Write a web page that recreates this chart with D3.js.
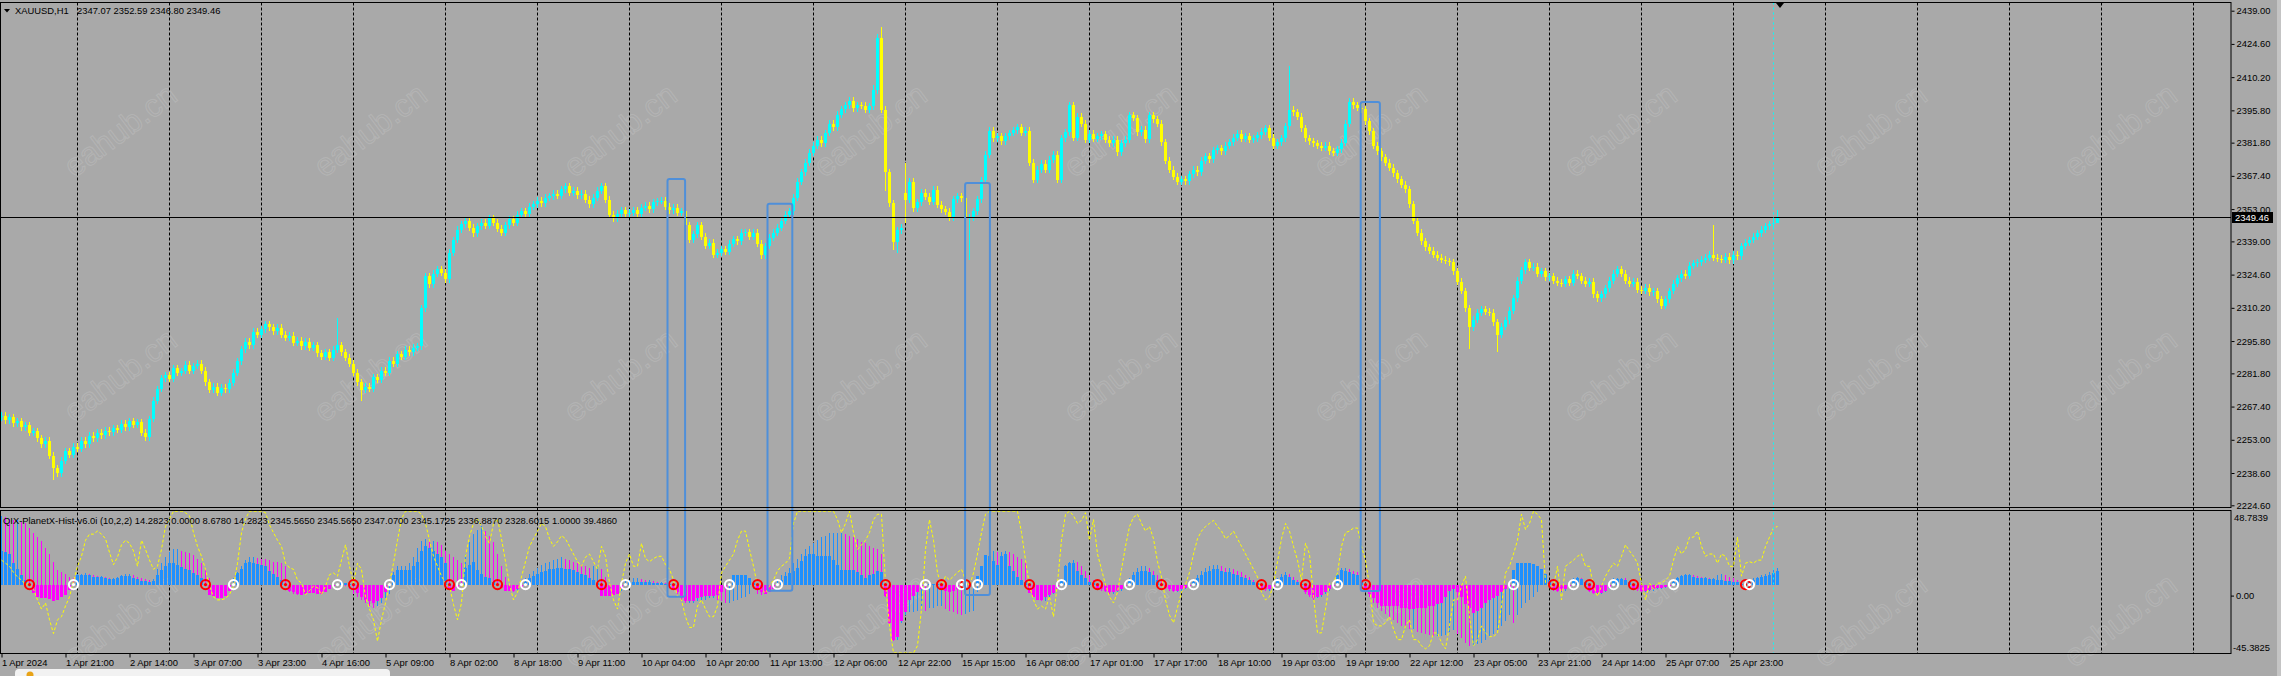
<!DOCTYPE html>
<html>
<head>
<meta charset="utf-8">
<title>XAUUSD,H1 - D3.js</title>
<script src="https://d3js.org/d3.v7.min.js"></script>
<style>
  body { margin: 0; background: #a9a9a9; overflow: hidden; }
  svg text { font-family: "Liberation Sans", Arial, sans-serif; font-size: 9.4px; fill: #000; }
  .axis path { display: none; }
  .axis line { stroke: #000; }
</style>
</head>
<body>
<div id="chart"></div>
<script>
// ---- price data (H1 bars, 1 Apr 2024 .. 26 Apr 2024) ----
const firstOpen = 2262.8;
const closes = [
  2263.5, 2261.5, 2262.8, 2260.2, 2261.0, 2258.5, 2259.4, 2256.0, 2256.8, 2253.6,
  2251.0, 2252.5, 2246.0, 2240.6, 2238.5, 2244.0, 2248.0, 2246.5, 2250.0, 2249.2,
  2252.5, 2251.0, 2254.8, 2253.6, 2256.0, 2255.0, 2257.0, 2256.2, 2258.0, 2257.4,
  2260.0, 2258.5, 2261.0, 2259.6, 2260.7, 2256.0, 2254.0, 2262.0, 2270.0, 2275.0,
  2279.6, 2281.0, 2279.5, 2284.0, 2282.0, 2282.8, 2285.5, 2283.0, 2285.0, 2286.0,
  2283.0, 2278.0, 2274.6, 2276.0, 2273.3, 2275.5, 2274.8, 2277.7, 2282.0, 2287.0,
  2292.3, 2295.5, 2294.0, 2299.8, 2298.5, 2301.0, 2303.0, 2301.7, 2300.0, 2301.5,
  2298.5, 2297.3, 2298.2, 2295.0, 2296.0, 2293.5, 2295.5, 2293.0, 2294.0, 2290.5,
  2289.0, 2291.0, 2288.5, 2292.0, 2294.0, 2291.0, 2288.5, 2286.0, 2282.0, 2278.0,
  2274.6, 2276.0, 2275.0, 2280.0, 2279.0, 2283.0, 2282.0, 2287.2, 2286.0, 2290.0,
  2289.0, 2292.0, 2291.0, 2293.0, 2293.5, 2310.0, 2323.8, 2320.5, 2325.0, 2327.0,
  2325.5, 2322.5, 2334.0, 2339.6, 2344.0, 2346.5, 2347.8, 2345.0, 2342.5, 2345.5,
  2347.0, 2345.8, 2349.0, 2347.0, 2344.5, 2342.7, 2346.0, 2348.5, 2347.0, 2350.5,
  2352.0, 2351.0, 2354.0, 2355.0, 2356.6, 2355.5, 2358.0, 2358.5, 2359.7, 2358.8,
  2361.5, 2362.9, 2360.0, 2361.0, 2359.0, 2359.7, 2357.0, 2355.0, 2358.0, 2361.0,
  2362.9, 2357.0, 2350.5, 2349.0, 2351.0, 2352.5, 2350.8, 2351.5, 2352.5, 2351.0,
  2353.5, 2354.5, 2353.0, 2356.0, 2356.5, 2356.6, 2354.0, 2352.5, 2353.5, 2351.5,
  2352.0, 2346.0, 2339.6, 2342.0, 2345.9, 2341.0, 2337.0, 2338.5, 2333.2, 2334.0,
  2335.5, 2334.6, 2338.0, 2340.0, 2339.0, 2342.7, 2343.0, 2341.0, 2342.7, 2338.0,
  2333.0, 2337.0, 2340.5, 2342.7, 2345.0, 2348.0, 2350.5, 2352.0, 2358.0, 2364.8,
  2369.0, 2373.0, 2377.4, 2380.5, 2383.0, 2381.5, 2386.0, 2390.0, 2388.5, 2394.0,
  2396.3, 2398.0, 2400.0, 2396.7, 2398.0, 2397.8, 2396.0, 2397.5, 2404.6, 2427.0,
  2396.0, 2369.0, 2355.6, 2338.7, 2343.8, 2345.0, 2357.0, 2364.8, 2353.4, 2356.0,
  2360.0, 2358.4, 2356.2, 2361.3, 2354.8, 2353.0, 2351.9, 2349.5, 2357.3, 2358.5,
  2357.7, 2349.0, 2349.5, 2352.0, 2357.3, 2365.6, 2376.5, 2387.0, 2383.8, 2384.7,
  2382.5, 2384.5, 2386.0, 2387.2, 2388.6, 2386.0, 2387.0, 2373.0, 2365.6, 2370.0,
  2372.6, 2370.0, 2374.3, 2376.5, 2365.6, 2383.8, 2386.4, 2398.0, 2384.0, 2393.1,
  2390.0, 2383.0, 2385.6, 2383.4, 2384.5, 2385.5, 2383.0, 2381.5, 2383.0, 2377.6,
  2381.5, 2383.0, 2393.8, 2392.5, 2386.4, 2387.5, 2383.3, 2393.8, 2391.9, 2390.0,
  2382.0, 2374.0, 2370.0, 2367.0, 2364.8, 2366.0, 2365.0, 2368.0, 2370.0, 2369.0,
  2374.0, 2376.0, 2374.5, 2378.5, 2379.5, 2378.0, 2380.5, 2382.0, 2384.0, 2385.6,
  2383.5, 2384.5, 2383.0, 2383.7, 2385.0, 2386.5, 2388.0, 2384.0, 2380.5, 2382.0,
  2383.7, 2389.0, 2396.0, 2395.0, 2393.0, 2388.0, 2383.7, 2382.5, 2381.5, 2380.5,
  2379.5, 2380.5, 2378.0, 2377.4, 2379.0, 2381.8, 2390.0, 2399.5, 2398.0, 2397.0,
  2396.3, 2391.0, 2386.8, 2380.5, 2378.0, 2375.5, 2373.0, 2371.0, 2368.5, 2366.0,
  2363.5, 2361.6, 2355.0, 2348.0, 2342.7, 2339.0, 2336.5, 2335.0, 2333.2, 2332.0,
  2331.0, 2330.5, 2330.0, 2326.0, 2321.5, 2317.5, 2310.0, 2301.7, 2305.0, 2308.0,
  2309.5, 2308.5, 2308.0, 2304.0, 2298.6, 2302.0, 2304.9, 2309.0, 2314.3, 2322.0,
  2326.5, 2330.0, 2327.5, 2328.0, 2325.0, 2326.0, 2323.5, 2323.8, 2322.0, 2321.0,
  2320.6, 2322.5, 2321.0, 2325.0, 2324.0, 2322.0, 2320.6, 2321.5, 2316.0, 2314.3,
  2316.0, 2318.7, 2322.0, 2325.0, 2327.0, 2325.0, 2322.0, 2320.6, 2321.5, 2318.0,
  2317.5, 2319.0, 2317.0, 2317.5, 2314.0, 2311.2, 2314.0, 2317.5, 2320.6, 2323.0,
  2325.0, 2324.0, 2328.5, 2329.5, 2330.0, 2331.0, 2332.0, 2333.2, 2332.0, 2331.4,
  2331.0, 2332.4, 2330.8, 2333.2, 2332.5, 2337.0, 2338.5, 2339.6, 2341.0, 2342.5,
  2344.0, 2345.5, 2346.5, 2347.07, 2349.46
];
// opens that differ from the previous close (weekend gaps)
const gapOpens = { 226: 2360.0 };
// wick extremes (other bars get a short wick)
const spikeHigh = { 84: 2306, 218: 2407, 219: 2429, 220: 2432, 226: 2373, 322: 2415, 428: 2346, 444: 2352.59 };
const spikeLow = { 13: 2235.5, 90: 2270, 221: 2361, 223: 2335.3, 224: 2334, 226: 2347, 242: 2331, 367: 2292.5, 374: 2291, 444: 2346.80 };

const priceTicks = [2439.00, 2424.60, 2410.20, 2395.80, 2381.80, 2367.40, 2353.00, 2339.00,
                    2324.60, 2310.20, 2295.80, 2281.80, 2267.40, 2253.00, 2238.60, 2224.60];
const lastPrice = 2349.46;
const titleText = "XAUUSD,H1";
const ohlcText = "2347.07 2352.59 2346.80 2349.46";

const timeLabels = ["1 Apr 2024", "1 Apr 21:00", "2 Apr 14:00", "3 Apr 07:00", "3 Apr 23:00", "4 Apr 16:00",
  "5 Apr 09:00", "8 Apr 02:00", "8 Apr 18:00", "9 Apr 11:00", "10 Apr 04:00", "10 Apr 20:00",
  "11 Apr 13:00", "12 Apr 06:00", "12 Apr 22:00", "15 Apr 15:00", "16 Apr 08:00", "17 Apr 01:00",
  "17 Apr 17:00", "18 Apr 10:00", "19 Apr 03:00", "19 Apr 19:00", "22 Apr 12:00", "23 Apr 05:00",
  "23 Apr 21:00", "24 Apr 14:00", "25 Apr 07:00", "25 Apr 23:00"];

// ---- indicator data ----
const indTitle = "QIX-PlanetX-Hist-v6.0i (10,2,2) 14.2823 0.0000 8.6780 14.2823 2345.5650 2345.5650 2347.0700 2345.1725 2336.8870 2328.6015 1.0000 39.4860";
const indRange = [-45.3825, 48.7839];
// thick histogram
const histFast = [
  22, 21, 20, 14, 10, 6.5, 3, -0.5, -5.5, -8,
  -8.5, -9, -9.7, -10.8, -10, -8, -6.5, -3.3, 0.5, 6.5,
  6.5, 6.5, 6.2, 5, 5, 4.8, 4.2, 3.7, 3.7, 4.5,
  5.8, 5.8, 5.5, 4.5, 3.5, 2.6, 2.3, 2, 2.2, 6,
  9.6, 12, 14, 14, 13, 11.8, 10.5, 9.6, 7.5, 6,
  4.3, -1, -6.5, -7.5, -8.7, -8.5, -7.5, -4, 0.5, 7.5,
  10, 14, 14.5, 14, 13.5, 12.5, 12, 9, 7, 5,
  3, -0.5, -4.4, -5, -6, -6.5, -6, -5.5, -5.5, -6,
  -6, -5, -3, -1, 0.5, 1.5, 1, 0.5, -1, -5.5,
  -8, -10, -11, -12, -11, -9, -5, 0.5, 6.5, 9.6,
  9.6, 9.6, 9.6, 12, 15, 21.8, 25.5, 24, 22, 20,
  18, 14, -2, -4, -2, 0.5, 11, 13, 15, 9.6,
  7, 5, 4, 1.5, -0.5, -2.5, -4, -4.5, -4, -3,
  -1.5, 2, 4, 5.5, 7, 8, 9, 10, 10.5, 11,
  11, 10.5, 10, 9.5, 8.5, 7, 6, 4.5, 3, 1,
  -7.6, -7.6, -7.6, -7, -6, -3, 0.5, 2, 2, 2,
  2, 1.8, 1.5, 1.2, 1, 0.8, 0.5, 0.2, -3, -5,
  -9, -11, -11, -10.5, -9, -8, -7.6, -7.6, -7.6, -7,
  -5, -2, 0.5, 6.5, 6.5, 6.5, 6, 4, 1, -3,
  -5, -6, -5, -3, 0.5, 3, 5.5, 7.5, 9, 10.9,
  15.3, 18.5, 20.3, 20, 18.5, 18.5, 18.5, 18.5, 16, 13,
  9.8, 9.8, 9.8, 9.8, 8, 6, 4.4, 6, 7, 9,
  8, -7.6, -25, -36, -34, -23.6, -18, -9.8, -7.6, -5,
  -3, 0.5, 0.5, 0.5, 0.3, -3, -4.5, -5, -4, -3,
  0.5, -1, -1, -0.5, 5.5, 12, 19.6, 18.5, 15.3, 13,
  18.5, 20.3, 12, 8.7, 5, 3, 2, -5.5, -8, -9.8,
  -9.8, -8, -7, -5.5, -3, 3, 12, 14, 14, 9,
  6, 4, 2, 1, -2, -3, -4, -5, -5, -4,
  -3, -1, 3, 6, 8, 9, 9, 8, 6, 3,
  -1, -2, -3, -4, -4, -3, -2, -1, 2, 4,
  6, 8, 9, 10, 10, 9, 8, 8, 7, 6,
  5, 4, 3, 2, 1, -2, -3, -3, -2, 3,
  5, 6, 5, 3, 1.5, 0.5, -5, -7, -8.7, -8,
  -7, -5, -3, -1, 6, 9.8, 9, 8, 7, 6,
  2, -3, -6, -9, -12, -13.7, -13.7, -13.7, -13.7, -14,
  -15, -15, -15.9, -15.9, -15.5, -15, -15, -14, -13.7, -13,
  -12, -8, -4, -3, -5, -8, -12.5, -15, -18.5, -17,
  -15, -12, -10, -8.7, -7.6, -5, -3, -1.5, 9.6, 14.4,
  14.4, 14.4, 14.4, 13.2, 12, 10, 7, 3, -3, -4,
  -4, -3, -1, 3.5, 4, 3.5, 2, -4, -5.5, -5.5,
  -5.5, -4, -2, 3, 3.5, 3.5, 3, 1.5, -2, -3,
  -4, -4, -3.5, -3, -2.5, -2, -1.5, -1, 2, 4,
  5.5, 6, 6, 5, 4.5, 4, 4, 3.5, 3.5, 3,
  3, 2.5, 2.5, 2, 1.5, 0.5, -0.5, 2, 3, 4,
  5, 5.5, 6.5, 7.5, 8.7
];
// thin histogram
const histSlow = [
  45, 44, 43, 42, 42, 41, 40, 37, 34, 31,
  28.6, 24, 20, 15, 9.4, 8, 7, 5, 4, 7,
  7, 7.5, 7, 6, 5.5, 5.5, 5, 4.5, 4.5, 5,
  6.5, 7, 7, 6, 5, 4, 3.5, 3, 3.5, 10,
  14, 18, 21, 23, 23.5, 22, 21, 20.5, 19.6, 17,
  14, 10, 4, -2, -4, -3, -2, 1, 4, 8,
  12, 16, 18, 18, 17.5, 17, 16.5, 16, 15, 14.5,
  14, 12, -5, -6, -7, -7, -6, -5, -5, -4,
  -3, -2, -1, 0, 1, 0.5, -1, -3, -6, -8,
  -10, -12, -14, -15, -14, -12, -9, -6, 8, 12,
  12, 12, 14, 18, 24, 28.6, 30, 28.6, 28.6, 28,
  26, 22, 20, 18, 16, 14, 20, 28, 33, 36,
  38, 35, 32, 28, 20, 12, 5, -3, -5, -4,
  -2, 4, 7, 9, 11, 13, 14, 15, 16, 17,
  18, 17, 16, 15, 14, 13, 12, 11, 12, 12,
  10, 5, -4, -7, -6, -4, 3, 3, 4, 4,
  3.5, 3, 3, 2.5, 2, 2, 1, 0, -2, -6,
  -10, -12, -12, -12, -11, -10, -10, -9, -9, -10,
  -11, -12, -12, -11, -10, -9, -8, -6, -3, -6,
  -7, -6, -4, -2, 3, 6, 8, 11, 14, 17,
  20, 23, 25, 27, 29, 31, 32, 33.8, 33.8, 33.8,
  33.8, 33, 32, 31, 30, 28, 27, 25, 24, 23,
  20, -8, -26, -37, -36, -25, -20, -18, -18, -17,
  -16, -17, -15, -15, -14, -14, -16, -17, -18, -19,
  -20, -19, -18, -17, -5, 10, 18, 22, 22, 21,
  21, 22, 21, 20, 18, 17, 15, -3, -7, -10,
  -11, -11, -9, -6, -3, 1, 13, 15, 16, 15,
  12, 9, 6, 3, -3, -4, -5, -6, -6, -5,
  -4, -2, 4, 8, 11, 12, 12, 11, 9, 6,
  3, -3, -4, -5, -5, -4, -3, -1, 3, 6,
  9, 11, 12, 13, 13, 12, 11, 11, 10, 9,
  8, 6, 5, 3, 2, -3, -4, -4, -3, 4,
  7, 8, 7, 5, 3, 1, -6, -8, -10, -9,
  -8, -6, -4, -2, 7, 11, 11, 10, 9, 8,
  3, -4, -8, -12, -15, -17, -19, -21, -23, -25,
  -27, -28, -29, -29, -31, -31.6, -32, -33, -33.8, -33.8,
  -33.8, -33, -31, -30, -32, -35, -38, -40, -40, -39,
  -38, -36, -34, -32, -30, -27, -24, -20, -25, -20,
  -15, -12, -10, -8, -5, 2, 5, 3, -4, -5,
  -5, -4, -2, 4, 5, 4, 2, -5, -6, -6,
  -6, -5, -3, 4, 4.5, 4.5, 4, 2, -3, -4,
  -5, -5, -4, -4, -3, -3, -2, -1, 3, 5,
  6.5, 7, 7, 6, 5.5, 5, 5, 4.5, 4.5, 6,
  7, 6, 5, 4, 3, 1, -1, 3, 4, 5,
  6, 7, 8, 9.5, 11
];
// yellow dashed line
const signalLine = [
  16, 14, 12, 8, 5, 3, 0, 1, -3, -10,
  -16, -12, -23, -32, -23, -21, -14, -8, 2, 12,
  18.5, 29, 33, 33, 35, 33, 30, 21, 13, 18,
  26, 29, 27, 22, 12, 29, 23, 16, 10, 12,
  23, 38, 43, 48, 48, 48, 47, 45, 34, 25,
  18.5, 10, -1, -8, -10, -10, -9, -6.5, -1, 14,
  34, 43, 48, 48, 48, 48, 47, 39, 34, 29,
  25, 14, 11, 10, 3, 1, -6.5, -4, -1, -2,
  -6.5, -1, 6.5, 7.6, 5.5, 16, 26, 12, 1, 14,
  10, -8, -16, -23, -37, -23, -12, 1, 14, 29,
  43, 48, 48, 48, 48, 46, 40, 29, 18.5, 12,
  5.5, 1, -1, -13, -23, -12, 18.5, 31.6, 40, 43,
  38, 31.6, 27, 40, 43, 30, 15, 0, -10, -5,
  5, 15, 25, 30, 35, 40, 38, 30, 25, 28,
  32, 30, 25, 20, 15, 12, 18, 20, 15, 10,
  25, 18.5, 1, -10, -16, 1, 14, 20, 12, 12,
  27, 17, 15, 17, 18.5, 18.5, 13, 10, 3, -7.6,
  -10, -21, -28, -28, -14, -10, -16, -21, -21, -14,
  7.6, 12, 16, 20, 29, 35, 35, 23, 12, -1,
  -3, -5.5, -1, 3, 9, 12, 14, 17, 40, 48,
  48, 48, 48, 48, 48, 48, 48, 48, 48, 42.5,
  34, 40, 48, 34, 23, 26, 29, 34, 42.5, 46,
  46, 1, -27, -44.7, -44.7, -44.7, -44.7, -44.7, -44.7, -40,
  -16, 23, 42.5, 29, 7.6, -1, 5.5, 3, 5.5, 8,
  10, 3, -1, 7.6, 20, 34, 46, 48, 48, 48,
  48, 48, 48, 48, 48, 34, 16, -1, -10, -16,
  -14, -16, -7.6, -21, 1, 29, 46, 48, 45, 40,
  42, 47, 29, 42.5, 20, 10, 0, -8, -12, -5,
  10, 25, 38, 44, 46, 40, 35, 38, 30, 15,
  5, -10, -20, -25, -15, -5, 0, 8, 20, 30,
  35, 38, 40, 42, 38, 35, 30, 32, 35, 30,
  25, 20, 15, 10, 5, -5, -10, -8, 0, 15,
  30, 40, 35, 25, 16, 3, 27, 20, -7.6, -31.6,
  -31.6, -16, 1, 1, 7.6, 25, 34, 35, 37, 37,
  25, 16, -1, -25, -27, -27, -25, -21, -29, -36,
  -36, -27, -23, -36, -36, -40, -42, -40, -31.6, -31.6,
  -38, -42, -27, -10, -10, -1, 5.5, -21, -40, -36,
  -27, -31.6, -34, -34, -31.6, -14, 7.6, 12, 20, 29,
  46, 36, 40, 48, 46, 42.5, 1, -1, -1, 12,
  -10, 12, 14, 16, 18.5, 20, 12, 12, -1, -7.6,
  -1, 5.5, 10, 14, 12, 18.5, 26, 22, 18.5, 14,
  1, -10, 1, -3, 1, 1, 3, 5.5, 16, 25,
  20, 23, 31, 31, 35, 25, 18.5, 20, 20, 14,
  20, 18.5, 12, 12, 31, 5.5, 14, 15, 14, 16,
  16, 25, 31, 37, 38
];
// signal circles on the zero line (bar numbers)
const sellMarks = [7, 51, 71, 88, 112, 124, 150, 168, 189, 221, 235, 241, 257, 274, 290, 315, 326, 341, 388, 397, 408, 436];
const buyMarks = [18, 58, 84, 97, 115, 131, 156, 182, 194, 231, 240, 244, 265, 282, 298, 319, 334, 378, 393, 403, 418, 437];

// highlight boxes drawn over both windows: bar span, top price, bottom indicator value
const boxFrom = [166.5, 191.5, 240.9, 339.8];
const boxTo = [170.9, 197.7, 247.1, 344.6];
const boxTopPrice = [2366.0, 2355.3, 2364.3, 2399.4];
const boxBottomValue = [-7.9, -4.0, -6.8, -4.2];

// ---- layout ----
const W = 2281, H = 676;
const plotRight = 2231;
const mainTop = 2.5, mainBottom = 507.5;
const subTop = 510.5, subBottom = 653.5;
const nBars = closes.length;

const svg = d3.select("#chart").append("svg")
  .attr("width", W).attr("height", H)
  .style("display", "block");

svg.append("rect").attr("width", W).attr("height", H).attr("fill", "#a9a9a9");
svg.append("rect").attr("x", W - 4).attr("width", 4).attr("height", H).attr("fill", "#c4c4c4");

const x = d3.scaleLinear().domain([0, nBars - 1]).range([1.5, 1.5 + 4 * (nBars - 1)]);
const y = d3.scaleLinear().domain([2224.6, 2439]).range([505.3, 10.7]);
const yi = d3.scaleLinear().domain(indRange).range([654, 510]);

const defs = svg.append("defs");
defs.append("clipPath").attr("id", "clipMain")
  .append("rect").attr("x", 1).attr("y", 3).attr("width", plotRight - 1).attr("height", mainBottom - 3);
defs.append("clipPath").attr("id", "clipSub")
  .append("rect").attr("x", 1).attr("y", subTop + 0.5).attr("width", plotRight - 1).attr("height", subBottom - subTop - 1);

// ---- watermark (faint, under the marks) ----
const wm = svg.append("g").attr("pointer-events", "none");
[130, 375, 620].forEach(wy => {
  d3.range(120, 2300, 250).forEach(wx => {
    wm.append("text").attr("transform", `translate(${wx},${wy}) rotate(-37)`)
      .attr("text-anchor", "middle").attr("dy", "0.35em")
      .style("font-size", "32px").style("fill", "none")
      .style("stroke", "#ffffff").style("stroke-opacity", 0.13).style("stroke-width", 1.2)
      .text("eahub.cn");
  });
});

// day separators
const dayBars = d3.range(19, 600, 23).filter(b => x(b) < plotRight);
svg.append("g").selectAll("line").data(dayBars).join("line")
  .attr("x1", b => Math.floor(x(b)) + 0.5).attr("x2", b => Math.floor(x(b)) + 0.5)
  .attr("y1", mainTop).attr("y2", subBottom)
  .attr("stroke", "#000").attr("stroke-dasharray", "3,2");

// ---- candles ----
const opens = closes.map((c, i) => i === 0 ? firstOpen : (gapOpens[i] !== undefined ? gapOpens[i] : closes[i - 1]));
const bars = closes.map((c, i) => {
  const o = opens[i];
  const hi = spikeHigh[i] !== undefined ? spikeHigh[i] : Math.max(o, c) + 1.5;
  const lo = spikeLow[i] !== undefined ? spikeLow[i] : Math.min(o, c) - 1.5;
  return { i, o, c, hi, lo, up: c >= o };
});

const gCandles = svg.append("g").attr("clip-path", "url(#clipMain)").attr("shape-rendering", "crispEdges");
gCandles.selectAll("line").data(bars).join("line")
  .attr("x1", d => x(d.i)).attr("x2", d => x(d.i))
  .attr("y1", d => Math.round(y(d.hi))).attr("y2", d => Math.round(y(d.lo)))
  .attr("stroke", d => d.up ? "#00ffff" : "#ffff00");
gCandles.selectAll("rect").data(bars).join("rect")
  .attr("x", d => x(d.i) - 1.5).attr("width", 3)
  .attr("y", d => Math.round(y(Math.max(d.o, d.c))))
  .attr("height", d => Math.max(1, Math.round(y(Math.min(d.o, d.c))) - Math.round(y(Math.max(d.o, d.c)))))
  .attr("fill", d => d.up ? "#00ffff" : "#ffff00");

// last price line
const yLast = Math.round(y(lastPrice)) + 0.5;
svg.append("line").attr("x1", 0).attr("x2", plotRight).attr("y1", yLast).attr("y2", yLast)
  .attr("stroke", "#000").attr("stroke-width", 1.2);

// ---- indicator ----
const gInd = svg.append("g").attr("clip-path", "url(#clipSub)").attr("shape-rendering", "crispEdges");
const y0 = yi(0);
gInd.selectAll("line.thin").data(histSlow).join("line").attr("class", "thin")
  .attr("x1", (v, i) => x(i)).attr("x2", (v, i) => x(i))
  .attr("y1", y0).attr("y2", v => yi(v))
  .attr("stroke", (v, i) => (i === 0 || v >= histSlow[i - 1]) ? "#1e90ff" : "#ff00ff");
gInd.selectAll("rect.thick").data(histFast).join("rect").attr("class", "thick")
  .attr("x", (v, i) => x(i) - 1.5).attr("width", 3)
  .attr("y", v => Math.min(y0, yi(v)))
  .attr("height", v => Math.abs(yi(v) - y0))
  .attr("fill", v => v >= 0 ? "#1e90ff" : "#ff00ff");

svg.append("g").attr("clip-path", "url(#clipSub)").append("path")
  .datum(signalLine)
  .attr("d", d3.line().x((v, i) => x(i)).y(v => yi(v)))
  .attr("fill", "none").attr("stroke", "#ffff00").attr("stroke-width", 1)
  .attr("stroke-dasharray", "3,2");

function drawMarks(list, color) {
  const g = svg.append("g");
  g.selectAll("circle.ring").data(list).join("circle").attr("class", "ring")
    .attr("cx", b => x(b)).attr("cy", y0).attr("r", 4.6)
    .attr("fill", "none").attr("stroke", color).attr("stroke-width", 2);
  g.selectAll("circle.dot").data(list).join("circle").attr("class", "dot")
    .attr("cx", b => x(b)).attr("cy", y0).attr("r", 1.6).attr("fill", color);
}
drawMarks(sellMarks, "#ff0000");
drawMarks(buyMarks, "#ffffff");

// current bar marker line
svg.append("line")
  .attr("x1", x(nBars - 2)).attr("x2", x(nBars - 2))
  .attr("y1", mainTop).attr("y2", subBottom)
  .attr("stroke", "#00ffff").attr("stroke-dasharray", "2,3");

// highlight boxes
svg.append("g").selectAll("rect").data(boxFrom).join("rect")
  .attr("x", (b, k) => x(b)).attr("width", (b, k) => x(boxTo[k]) - x(b))
  .attr("y", (b, k) => y(boxTopPrice[k]))
  .attr("height", (b, k) => yi(boxBottomValue[k]) - y(boxTopPrice[k]))
  .attr("rx", 2).attr("fill", "none").attr("stroke", "#4f8fd9").attr("stroke-width", 2);

// ---- frames ----
svg.append("rect").attr("x", 0.5).attr("y", mainTop).attr("width", plotRight - 0.5).attr("height", mainBottom - mainTop)
  .attr("fill", "none").attr("stroke", "#000");
svg.append("rect").attr("x", 0.5).attr("y", subTop).attr("width", plotRight - 0.5).attr("height", subBottom - subTop)
  .attr("fill", "none").attr("stroke", "#000");

// shift marker
svg.append("path").attr("d", `M${x(nBars - 1) - 1.5},3 h8 l-4,5 z`).attr("fill", "#000");

// ---- axes ----
svg.append("g").attr("class", "axis")
  .attr("transform", `translate(${plotRight + 0.5},0)`)
  .call(d3.axisRight(y).tickValues(priceTicks).tickSize(3).tickPadding(2).tickFormat(d3.format(".2f")));

svg.append("rect").attr("x", plotRight + 1).attr("y", yLast - 5.5).attr("width", 41).attr("height", 11).attr("fill", "#000");
svg.append("text").attr("x", plotRight + 4).attr("y", yLast + 3.5).style("fill", "#fff").text(lastPrice.toFixed(2));

const indLabels = [
  { t: indRange[1].toFixed(4), y: yi(indRange[1]) + 10.5, dx: 3 },
  { t: "0.00", y: yi(0) + 14.5, dx: 5 },
  { t: indRange[0].toFixed(4), y: yi(indRange[0]) - 3, dx: 2 }
];
svg.append("g").selectAll("text").data(indLabels).join("text")
  .attr("x", d => plotRight + d.dx).attr("y", d => d.y).text(d => d.t);
svg.append("line").attr("x1", plotRight).attr("x2", plotRight + 3)
  .attr("y1", yi(0) + 11.5).attr("y2", yi(0) + 11.5).attr("stroke", "#000");

const labelBars = d3.range(0, timeLabels.length * 16, 16);
const xAxis = svg.append("g").attr("class", "axis")
  .attr("transform", `translate(0,${subBottom})`)
  .call(d3.axisBottom(x).tickValues(labelBars).tickSize(4).tickPadding(2)
    .tickFormat((d, k) => timeLabels[k]));
xAxis.selectAll("text").attr("text-anchor", "start").attr("x", 0);

// ---- titles ----
svg.append("path").attr("d", "M4,9 h6 l-3,3.5 z").attr("fill", "#000");
svg.append("text").attr("x", 15).attr("y", 14).text(titleText);
svg.append("text").attr("x", 77).attr("y", 14).text(ohlcText);
svg.append("text").attr("x", 3).attr("y", 524).text(indTitle);

// tooltip stub at the bottom edge
svg.append("rect").attr("x", 15).attr("y", 669).attr("width", 375).attr("height", 14).attr("rx", 4).attr("fill", "#f2f2f2");
svg.append("circle").attr("cx", 30).attr("cy", 675).attr("r", 3.5).attr("fill", "#e8a317");
</script>
</body>
</html>
